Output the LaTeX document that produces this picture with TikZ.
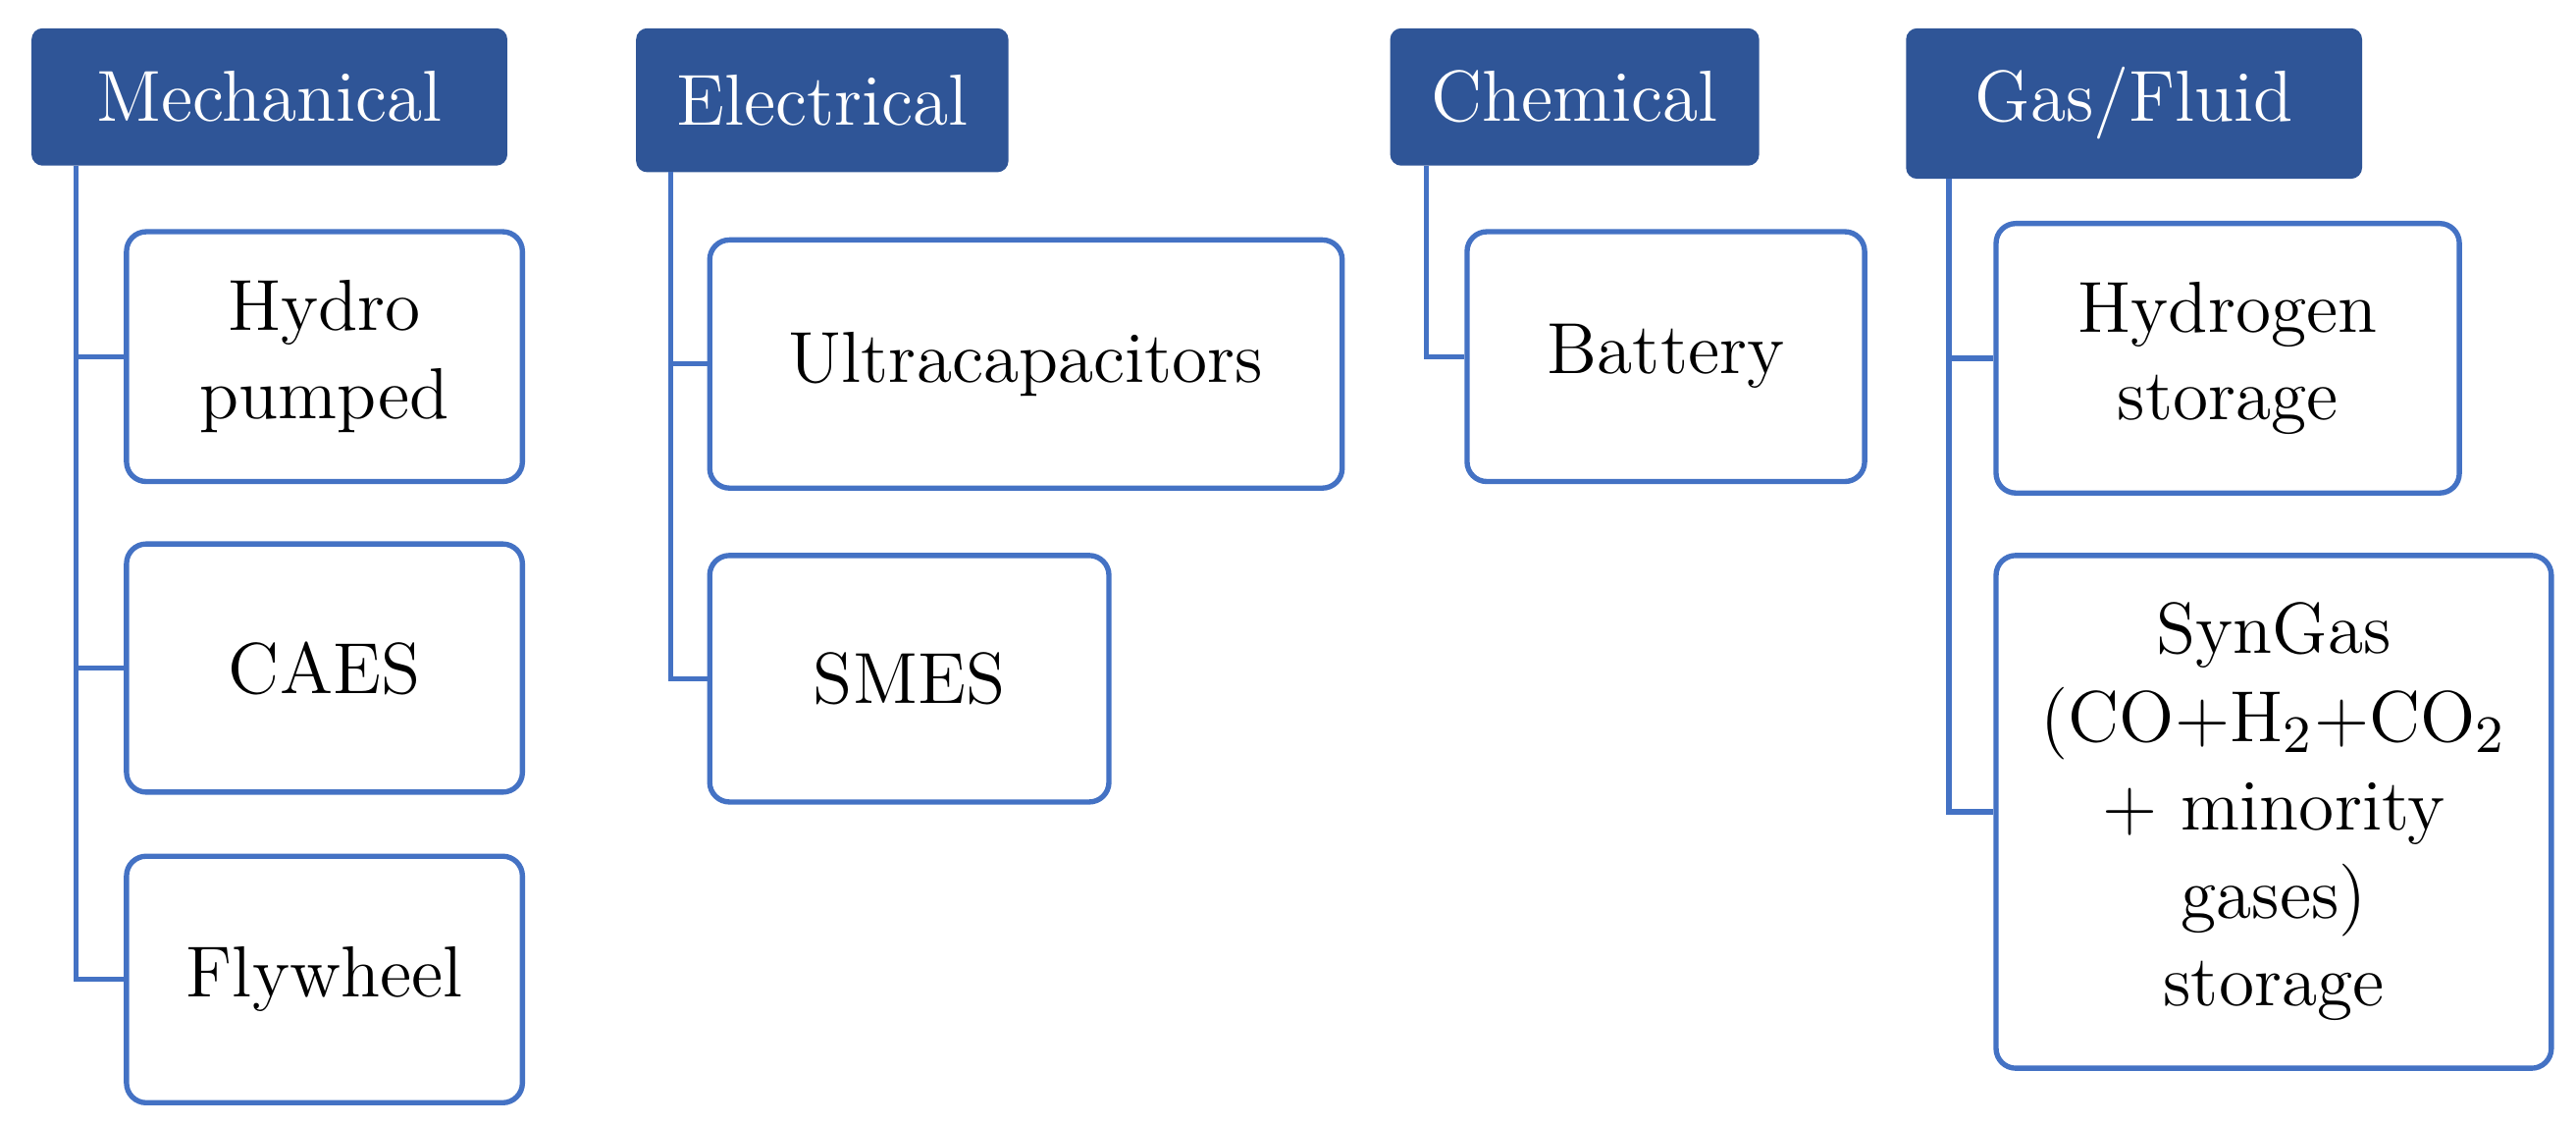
\documentclass[tikz,border=0pt]{standalone}
\usetikzlibrary{positioning}
\definecolor{hdrblue}{HTML}{2F5597}
\definecolor{boxblue}{HTML}{4472C4}
\tikzset{
  hdr/.style={draw=hdrblue,fill=hdrblue,text=white,rounded corners=1.5pt,
    inner sep=0pt,font=\fontsize{11}{13}\selectfont},
  item/.style={draw=boxblue,thick,rounded corners=3pt,inner sep=0pt,align=center,
    font=\fontsize{11}{13.4}\selectfont},
  conn/.style={draw=boxblue,thick}
}
\begin{document}
\begin{tikzpicture}[x=0.25pt,y=-0.25pt]
\useasboundingbox (0,0) rectangle (1568,684);
% headers
\node[hdr,minimum width=72pt,minimum height=20.5pt] (mech) at (164,59) {Mechanical};
\node[hdr,minimum width=56.25pt,minimum height=21.5pt] (elec) at (500.5,61) {Electrical};
\node[hdr,minimum width=55.75pt,minimum height=20.5pt] (chem) at (958.5,59) {Chemical};
\node[hdr,minimum width=69pt,minimum height=22.5pt] (gas) at (1299,63) {Gas/Fluid};
% items
\node[item,minimum width=60.25pt,minimum height=38pt] (hydro) at (197.5,217) {Hydro\\pumped};
\node[item,minimum width=60.25pt,minimum height=37.75pt] (caes) at (197.5,406.5) {CAES};
\node[item,minimum width=60.25pt,minimum height=37.5pt] (fly) at (197.5,596) {Flywheel};
\node[item,minimum width=96.25pt,minimum height=37.75pt] (ultra) at (624.5,221.5) {Ultracapacitors};
\node[item,minimum width=60.75pt,minimum height=37.5pt] (smes) at (553.5,413) {SMES};
\node[item,minimum width=60.5pt,minimum height=38pt] (batt) at (1014,217) {Battery};
\node[item,minimum width=70.5pt,minimum height=41pt] (hyd) at (1356,218) {Hydrogen\\storage};
\node[item,minimum width=84.5pt,minimum height=78pt] (syn) at (1384,494)
  {SynGas\\(CO+H$_2$+CO$_2$\\+ minority\\gases)\\storage};
% connectors
\coordinate (mtop) at ([xshift=6.75pt]mech.south west);
\coordinate (etop) at ([xshift=5.25pt]elec.south west);
\coordinate (ctop) at ([xshift=5.5pt]chem.south west);
\coordinate (gtop) at ([xshift=6.5pt]gas.south west);
\draw[conn] (mtop) |- (fly.west);
\draw[conn] (mtop |- hydro.west) -- (hydro.west);
\draw[conn] (mtop |- caes.west) -- (caes.west);
\draw[conn] (etop) |- (smes.west);
\draw[conn] (etop |- ultra.west) -- (ultra.west);
\draw[conn] (ctop) |- (batt.west);
\draw[conn] (gtop) |- (syn.west);
\draw[conn] (gtop |- hyd.west) -- (hyd.west);
\end{tikzpicture}
\end{document}
